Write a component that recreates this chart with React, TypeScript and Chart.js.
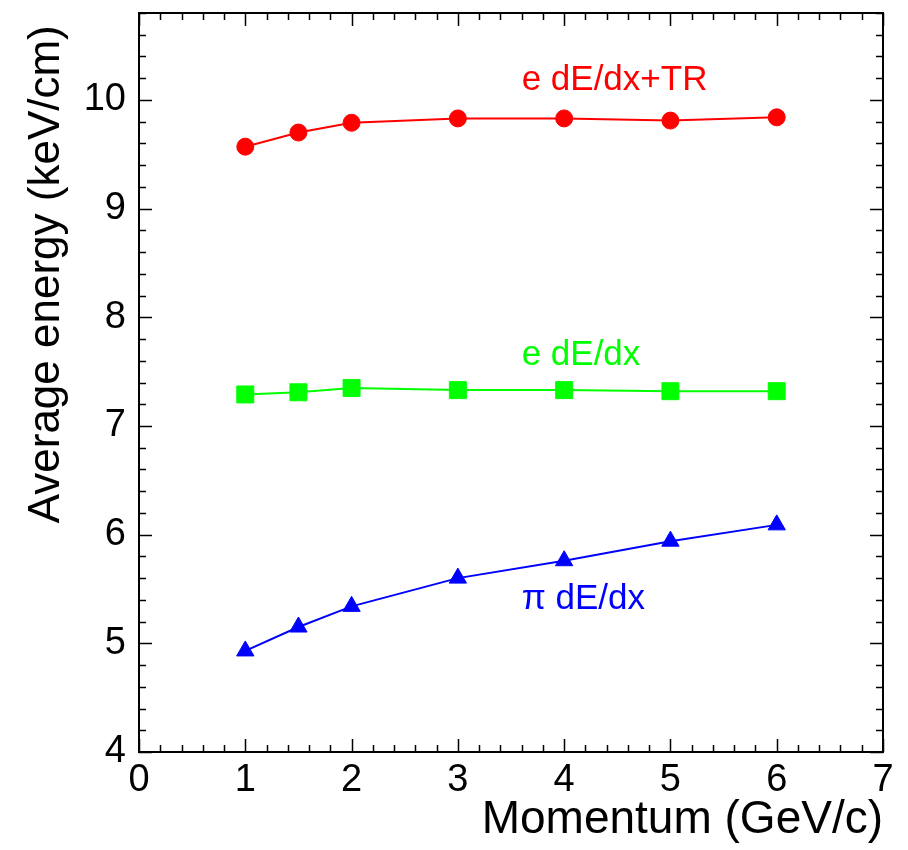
import React, { useEffect, useRef } from 'react';
import { Chart, registerables } from 'chart.js';

Chart.register(...registerables);

// ---- data ----
const momentum = [1, 1.5, 2, 3, 4, 5, 6];
const eDEdxTR = [9.57, 9.7, 9.79, 9.83, 9.83, 9.81, 9.84];
const eDEdx = [7.29, 7.31, 7.35, 7.33, 7.33, 7.32, 7.32];
const piDEdx = [4.93, 5.15, 5.34, 5.6, 5.76, 5.94, 6.09];

const xTicks = [0, 1, 2, 3, 4, 5, 6, 7];
const yTicks = [4, 5, 6, 7, 8, 9, 10];
const xRange = [0, 7];
const yRange = [4, 10.8];
const minorStep = 0.2;

const seriesNames = ['e dE/dx+TR', 'e dE/dx', 'π dE/dx'];
const seriesColors = ['#ff0000', '#00ff00', '#0000ff'];
const labelX = [3.6, 3.6, 3.6];
const labelY = [10.09, 7.56, 5.32];

const xTitle = 'Momentum (GeV/c)';
const yTitle = 'Average energy (keV/cm)';

const FONT = "'Liberation Sans', Arial, Helvetica, sans-serif";

const framePlugin = {
  id: 'rootFrame',
  afterDatasetsDraw(chart: any) {
    const ctx = chart.ctx;
    const xs = chart.scales.x;
    const ys = chart.scales.y;
    ctx.save();
    ctx.font = `35px ${FONT}`;
    ctx.textAlign = 'left';
    ctx.textBaseline = 'alphabetic';
    seriesNames.forEach((t, i) => {
      ctx.fillStyle = seriesColors[i];
      ctx.fillText(t, xs.getPixelForValue(labelX[i]), ys.getPixelForValue(labelY[i]));
    });
    ctx.restore();
  },
  afterDraw(chart: any) {
    const ctx = chart.ctx;
    const { left, right, top, bottom } = chart.chartArea;
    const xs = chart.scales.x;
    const ys = chart.scales.y;
    ctx.save();
    ctx.strokeStyle = '#000';
    ctx.lineWidth = 2;
    ctx.strokeRect(left, top, right - left, bottom - top);
    ctx.lineWidth = 1.5;
    const major = 13;
    const minor = 7;
    ctx.beginPath();
    const nx = Math.round((xRange[1] - xRange[0]) / minorStep);
    for (let i = 0; i <= nx; i++) {
      const v = xRange[0] + i * minorStep;
      const isMajor = xTicks.some((t) => Math.abs(t - v) < 1e-6);
      const len = isMajor ? major : minor;
      const px = Math.round(xs.getPixelForValue(v)) + 0.5;
      ctx.moveTo(px, bottom);
      ctx.lineTo(px, bottom - len);
      ctx.moveTo(px, top);
      ctx.lineTo(px, top + len);
    }
    const ny = Math.round((yRange[1] - yRange[0]) / minorStep);
    for (let i = 0; i <= ny; i++) {
      const v = yRange[0] + i * minorStep;
      const isMajor = yTicks.some((t) => Math.abs(t - v) < 1e-6);
      const len = isMajor ? major : minor;
      const py = Math.round(ys.getPixelForValue(v)) + 0.5;
      ctx.moveTo(left, py);
      ctx.lineTo(left + len, py);
      ctx.moveTo(right, py);
      ctx.lineTo(right - len, py);
    }
    ctx.stroke();
    ctx.restore();
  },
};

export default function App() {
  const ref = useRef<HTMLCanvasElement | null>(null);

  useEffect(() => {
    if (!ref.current) return;
    const mk = (vals: number[]) => momentum.map((x, i) => ({ x, y: vals[i] }));
    const chart = new Chart(ref.current, {
      type: 'line',
      data: {
        datasets: [
          {
            label: seriesNames[0],
            data: mk(eDEdxTR),
            borderColor: seriesColors[0],
            backgroundColor: seriesColors[0],
            borderWidth: 2,
            pointStyle: 'circle',
            pointRadius: 8.5,
            pointBorderWidth: 1,
            tension: 0,
          },
          {
            label: seriesNames[1],
            data: mk(eDEdx),
            borderColor: seriesColors[1],
            backgroundColor: seriesColors[1],
            borderWidth: 2,
            pointStyle: 'rect',
            pointRadius: 12,
            pointBorderWidth: 1,
            tension: 0,
          },
          {
            label: seriesNames[2],
            data: mk(piDEdx),
            borderColor: seriesColors[2],
            backgroundColor: seriesColors[2],
            borderWidth: 2,
            pointStyle: 'triangle',
            pointRadius: 10,
            pointBorderWidth: 1,
            tension: 0,
          },
        ],
      },
      options: {
        responsive: false,
        animation: false,
        events: [],
        layout: { padding: { top: 8, right: 25, left: 0, bottom: 0 } },
        plugins: { legend: { display: false }, tooltip: { enabled: false } },
        scales: {
          x: {
            type: 'linear',
            min: xRange[0],
            max: xRange[1],
            grid: { display: false, drawTicks: false },
            border: { display: false },
            afterBuildTicks: (s: any) => {
              s.ticks = xTicks.map((v) => ({ value: v }));
            },
            afterFit: (s: any) => {
              s.height = 98;
              s.paddingLeft = 0;
              s.paddingRight = 0;
            },
            ticks: {
              padding: 6,
              color: '#000',
              maxRotation: 0,
              autoSkip: false,
              font: { family: FONT, size: 38 },
            },
            title: {
              display: true,
              text: xTitle,
              align: 'end',
              color: '#000',
              padding: { top: 0, bottom: 2 },
              font: { family: FONT, size: 46 },
            },
          },
          y: {
            type: 'linear',
            min: yRange[0],
            max: yRange[1],
            grid: { display: false, drawTicks: false },
            border: { display: false },
            afterBuildTicks: (s: any) => {
              s.ticks = yTicks.map((v) => ({ value: v }));
            },
            afterFit: (s: any) => {
              s.width = 139;
              s.paddingTop = 0;
              s.paddingBottom = 0;
            },
            ticks: {
              padding: 13,
              color: '#000',
              autoSkip: false,
              font: { family: FONT, size: 38 },
            },
            title: {
              display: true,
              text: yTitle + ' ',
              align: 'end',
              color: '#000',
              padding: { top: 20, bottom: 0 },
              font: { family: FONT, size: 44 },
            },
          },
        },
      },
      plugins: [framePlugin],
    } as any);
    return () => chart.destroy();
  }, []);

  return (
    <div style={{ position: 'absolute', left: 0, top: 0, width: 908, height: 850, background: '#fff' }}>
      <canvas ref={ref} width={908} height={850} style={{ display: 'block' }} />
    </div>
  );
}
